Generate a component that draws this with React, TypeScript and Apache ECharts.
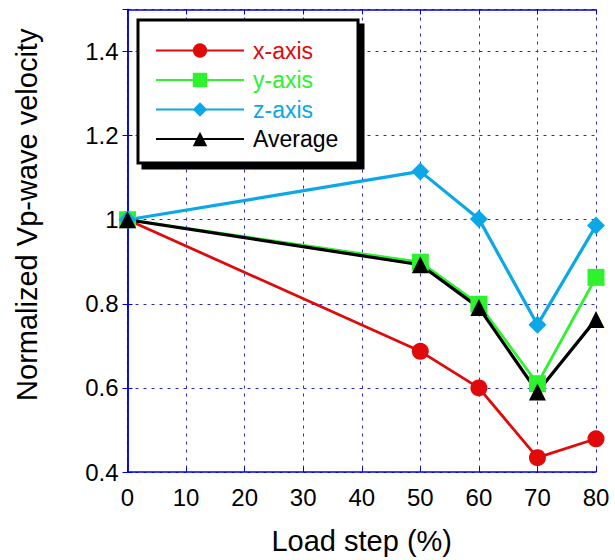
import React, { useEffect, useRef } from "react";
import * as echarts from "echarts";

const loadSteps = [0, 50, 60, 70, 80];
const xAxisVals = [1.0, 0.687, 0.6, 0.434, 0.479];
const yAxisVals = [1.0, 0.899, 0.799, 0.61, 0.863];
const zAxisVals = [1.0, 1.115, 1.002, 0.75, 0.986];
const avgVals = [1.0, 0.893, 0.791, 0.59, 0.763];

const seriesNames = ["x-axis", "y-axis", "z-axis", "Average"];
const seriesColors = ["#e00a0a", "#2ef22e", "#0aa8e6", "#000000"];
const seriesSymbols = ["circle", "rect", "diamond", "triangle"];

const FONT = "'Liberation Sans', Arial, sans-serif";
const AXIS_BLUE = "#0000dd";
const GRID_BLUE = "#2a2aee";

export default function App() {
  const ref = useRef<HTMLDivElement>(null);
  useEffect(() => {
    if (!ref.current) return;
    const chart = echarts.init(ref.current, null, { renderer: "svg" });
    const allVals = [xAxisVals, yAxisVals, zAxisVals, avgVals];
    const symSizes = [17, 17, 18, 17];
    const widths = [2.8, 2.8, 3.2, 3.2];
    const series = allVals.map((vals, i) => ({
      name: seriesNames[i],
      type: "line",
      xAxisIndex: 0,
      yAxisIndex: 0,
      data: loadSteps.map((s, j) => [s, vals[j]]),
      symbol: seriesSymbols[i],
      symbolSize: symSizes[i],
      showAllSymbol: true,
      lineStyle: { color: seriesColors[i], width: widths[i] },
      itemStyle: { color: seriesColors[i] },
      z: 2,
    }));
    const common = {
      axisLine: { show: true, lineStyle: { color: AXIS_BLUE, width: 1.5 } },
      axisTick: { show: true, inside: true, length: 5, lineStyle: { color: AXIS_BLUE } },
    };
    chart.setOption({
      animation: false,
      grid: { left: 127.5, right: 19, top: 9.5, bottom: 82.3, containLabel: false },
      legend: {
        orient: "vertical",
        left: 155,
        top: 39,
        padding: 0,
        z: 20,
        itemWidth: 88,
        itemHeight: 18,
        itemGap: 6.5,
        data: seriesNames.map((n, i) => ({
          name: n,
          textStyle: { color: seriesColors[i] },
        })),
        textStyle: { fontFamily: FONT, fontSize: 23, lineHeight: 18, padding: [0, 0, 0, 4] },
      },
      graphic: [
        {
          type: "rect",
          shape: { x: 138, y: 20, width: 220, height: 143 },
          style: {
            fill: "#ffffff",
            stroke: "#000000",
            lineWidth: 3,
            shadowColor: "#000000",
            shadowOffsetX: 5,
            shadowOffsetY: 5,
            shadowBlur: 0,
          },
          z: 10,
        },
      ],
      xAxis: [
        {
          type: "value",
          min: 0,
          max: 80,
          interval: 10,
          position: "bottom",
          ...common,
          axisLabel: { fontFamily: FONT, fontSize: 24, color: "#000", margin: 13 },
          splitLine: { show: true, lineStyle: { color: GRID_BLUE, type: [3, 5], width: 1 } },
          name: "Load step (%)",
          nameLocation: "middle",
          nameGap: 54,
          nameTextStyle: { fontFamily: FONT, fontSize: 29, color: "#000" },
        },
        {
          type: "value",
          min: 0,
          max: 80,
          interval: 10,
          position: "top",
          ...common,
          axisLabel: { show: false },
          splitLine: { show: false },
        },
      ],
      yAxis: [
        {
          type: "value",
          min: 0.4,
          max: 1.5,
          interval: 0.2,
          position: "left",
          ...common,
          axisLabel: {
            fontFamily: FONT,
            fontSize: 24,
            color: "#000",
            margin: 9,
            showMaxLabel: false,
            formatter: (v: number) => (Math.abs(v - 1) < 1e-9 ? "1" : String(+v.toFixed(1))),
          },
          splitLine: { show: true, lineStyle: { color: GRID_BLUE, type: [3, 5], width: 1 } },
          name: "Normalized Vp-wave velocity",
          nameLocation: "middle",
          nameGap: 86,
          nameTextStyle: { fontFamily: FONT, fontSize: 29, color: "#000", padding: [0, 0, 0, 52] },
        },
        {
          type: "value",
          min: 0.4,
          max: 1.5,
          interval: 0.2,
          position: "right",
          ...common,
          axisLabel: { show: false },
          splitLine: { show: false },
        },
      ],
      series,
    });
    return () => chart.dispose();
  }, []);
  return <div ref={ref} style={{ width: 615, height: 560, position: "absolute", left: 0, top: 0 }} />;
}
